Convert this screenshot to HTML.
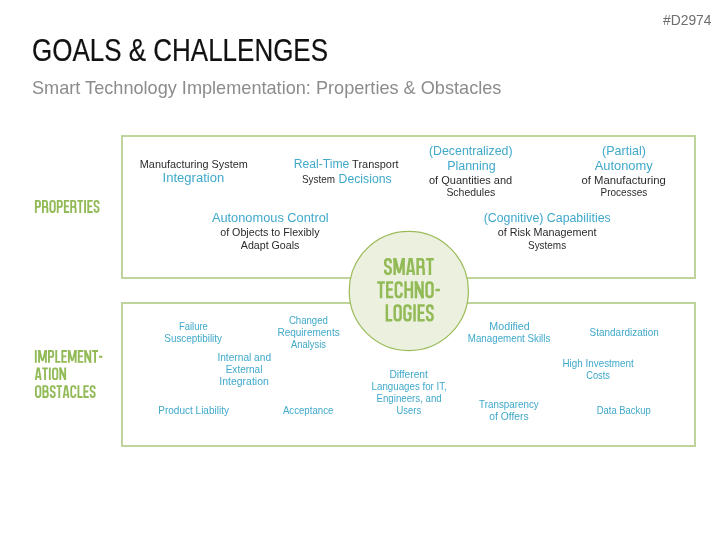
<!DOCTYPE html>
<html><head><meta charset="utf-8"><style>
html,body{margin:0;padding:0;background:#fff;width:727px;height:545px;overflow:hidden}
svg{display:block;will-change:transform}
text{font-family:"Liberation Sans",sans-serif}
</style></head><body>
<svg width="727" height="545" viewBox="0 0 727 545">
<rect x="0" y="0" width="727" height="545" fill="#ffffff"/>
<rect x="122" y="136" width="573" height="142" fill="none" stroke="#bfd49b" stroke-width="2"/>
<rect x="122" y="303" width="573" height="143" fill="none" stroke="#bfd49b" stroke-width="2"/>
<circle cx="408.8" cy="291" r="59.6" fill="#ebf1de" stroke="#9bbb59" stroke-width="1.2"/>
<text transform="translate(139.80 167.90) scale(0.9874 1)" font-size="11" fill="#2b2b2b">Manufacturing System</text>
<text transform="translate(162.56 181.70) scale(1.0444 1)" font-size="12.5" fill="#40a9ca">Integration</text>
<text transform="translate(293.83 167.90) scale(0.9710 1)" font-size="12.5" fill="#40a9ca">Real-Time</text>
<text transform="translate(352.10 167.90) scale(0.9977 1)" font-size="11" fill="#2b2b2b">Transport</text>
<text transform="translate(302.00 183.10) scale(0.9038 1)" font-size="11" fill="#2b2b2b">System</text>
<text transform="translate(338.62 183.10) scale(0.9785 1)" font-size="12.5" fill="#40a9ca">Decisions</text>
<text transform="translate(429.00 154.90) scale(1.0287 1)" font-size="12" fill="#40a9ca">(Decentralized)</text>
<text transform="translate(447.20 170.00) scale(1.0384 1)" font-size="12" fill="#40a9ca">Planning</text>
<text transform="translate(429.00 183.50) scale(1.0484 1)" font-size="10.5" fill="#2b2b2b">of Quantities and</text>
<text transform="translate(446.40 196.30) scale(0.9962 1)" font-size="10.5" fill="#2b2b2b">Schedules</text>
<text transform="translate(602.10 154.90) scale(1.0426 1)" font-size="12" fill="#40a9ca">(Partial)</text>
<text transform="translate(594.70 170.00) scale(1.0753 1)" font-size="12" fill="#40a9ca">Autonomy</text>
<text transform="translate(581.50 183.50) scale(1.0782 1)" font-size="10.5" fill="#2b2b2b">of Manufacturing</text>
<text transform="translate(600.50 196.30) scale(0.9535 1)" font-size="10.5" fill="#2b2b2b">Processes</text>
<text transform="translate(211.90 221.90) scale(1.0678 1)" font-size="12" fill="#40a9ca">Autonomous Control</text>
<text transform="translate(220.20 235.80) scale(1.0203 1)" font-size="10.5" fill="#2b2b2b">of Objects to Flexibly</text>
<text transform="translate(240.80 248.90) scale(1.0150 1)" font-size="10.5" fill="#2b2b2b">Adapt Goals</text>
<text transform="translate(483.70 221.90) scale(1.0301 1)" font-size="12" fill="#40a9ca">(Cognitive) Capabilities</text>
<text transform="translate(497.70 235.80) scale(1.0272 1)" font-size="10.5" fill="#2b2b2b">of Risk Management</text>
<text transform="translate(528.00 248.90) scale(0.9473 1)" font-size="10.5" fill="#2b2b2b">Systems</text>
<text transform="translate(178.90 330.10) scale(0.9482 1)" font-size="10" fill="#40a9ca">Failure</text>
<text transform="translate(164.30 341.60) scale(0.9904 1)" font-size="10" fill="#40a9ca">Susceptibility</text>
<text transform="translate(288.90 324.30) scale(0.9618 1)" font-size="10" fill="#40a9ca">Changed</text>
<text transform="translate(277.40 336.10) scale(1.0024 1)" font-size="10" fill="#40a9ca">Requirements</text>
<text transform="translate(290.90 348.00) scale(0.9426 1)" font-size="10" fill="#40a9ca">Analysis</text>
<text transform="translate(217.40 361.40) scale(1.0162 1)" font-size="10" fill="#40a9ca">Internal and</text>
<text transform="translate(225.70 373.30) scale(1.0010 1)" font-size="10" fill="#40a9ca">External</text>
<text transform="translate(219.30 384.80) scale(1.0494 1)" font-size="10" fill="#40a9ca">Integration</text>
<text transform="translate(158.30 413.90) scale(1.0015 1)" font-size="10" fill="#40a9ca">Product Liability</text>
<text transform="translate(282.90 413.90) scale(0.9659 1)" font-size="10" fill="#40a9ca">Acceptance</text>
<text transform="translate(489.30 330.10) scale(1.0715 1)" font-size="10" fill="#40a9ca">Modified</text>
<text transform="translate(467.80 341.60) scale(0.9777 1)" font-size="10" fill="#40a9ca">Management Skills</text>
<text transform="translate(389.40 378.20) scale(1.0255 1)" font-size="10" fill="#40a9ca">Different</text>
<text transform="translate(371.60 389.80) scale(0.9739 1)" font-size="10" fill="#40a9ca">Languages for IT,</text>
<text transform="translate(376.50 402.20) scale(0.9699 1)" font-size="10" fill="#40a9ca">Engineers, and</text>
<text transform="translate(396.60 413.70) scale(0.9382 1)" font-size="10" fill="#40a9ca">Users</text>
<text transform="translate(479.10 408.20) scale(0.9824 1)" font-size="10" fill="#40a9ca">Transparency</text>
<text transform="translate(489.30 419.50) scale(1.0298 1)" font-size="10" fill="#40a9ca">of Offers</text>
<text transform="translate(589.60 336.00) scale(0.9967 1)" font-size="10" fill="#40a9ca">Standardization</text>
<text transform="translate(562.50 367.20) scale(0.9879 1)" font-size="10" fill="#40a9ca">High Investment</text>
<text transform="translate(586.30 378.90) scale(0.9233 1)" font-size="10" fill="#40a9ca">Costs</text>
<text transform="translate(596.70 413.50) scale(0.9464 1)" font-size="10" fill="#40a9ca">Data Backup</text>
<text transform="translate(663.00 24.70) scale(1.0030 1)" font-size="13.8" fill="#6e6e6e">#D2974</text>
<text transform="translate(31.95 60.60) scale(0.8524 1)" font-size="30.5" fill="#111111" stroke="#111111" stroke-width="0.2">GOALS &amp; CHALLENGES</text>
<text transform="translate(32.00 93.90) scale(1.0081 1)" font-size="18" fill="#8c8c8c">Smart Technology Implementation: Properties &amp; Obstacles</text>
<path d="M 35.84,212.90 V 200.92 H 38.27 Q 39.96,200.92 39.96,202.58 V 205.16 Q 39.96,206.82 38.27,206.82 H 35.84 M 42.91,212.90 V 200.92 H 45.35 Q 47.03,200.92 47.03,202.58 V 205.16 Q 47.03,206.82 45.35,206.82 H 42.91 M 45.35,206.82 Q 47.37,206.82 47.37,208.48 V 212.90 M 50.33,203.13 Q 50.33,200.92 52.55,200.92 Q 54.77,200.92 54.77,203.13 V 209.77 Q 54.77,211.98 52.55,211.98 Q 50.33,211.98 50.33,209.77 Z M 57.73,212.90 V 200.92 H 60.16 Q 61.84,200.92 61.84,202.58 V 205.16 Q 61.84,206.82 60.16,206.82 H 57.73 M 69.20,200.92 H 64.80 V 211.98 H 69.20 M 64.80,206.36 H 68.74 M 71.17,212.90 V 200.92 H 73.60 Q 75.29,200.92 75.29,202.58 V 205.16 Q 75.29,206.82 73.60,206.82 H 71.17 M 73.60,206.82 Q 75.63,206.82 75.63,208.48 V 212.90 M 77.40,200.92 H 83.10 M 80.25,200.92 V 212.90 M 85.06,200.00 V 212.90 M 92.65,200.92 H 88.25 V 211.98 H 92.65 M 88.25,206.36 H 92.18 M 98.56,203.96 V 203.04 Q 98.56,200.92 96.54,200.92 Q 94.52,200.92 94.52,203.04 V 204.15 Q 94.52,205.34 95.64,205.99 L 97.52,207.00 Q 98.56,207.59 98.56,208.75 V 209.86 Q 98.56,211.98 96.54,211.98 Q 94.52,211.98 94.52,209.86 V 208.85" fill="none" stroke="#92ba56" stroke-width="1.86" stroke-linejoin="miter" stroke-linecap="butt"/>
<path d="M 35.81,350.10 V 362.80 M 39.09,362.80 V 350.10 M 45.87,362.80 V 350.10 M 48.95,362.80 V 351.01 H 51.46 Q 53.19,351.01 53.19,352.64 V 355.18 Q 53.19,356.81 51.46,356.81 H 48.95 M 56.24,350.10 V 361.89 H 60.48 M 66.85,351.01 H 62.32 V 361.89 H 66.85 M 62.32,356.36 H 66.37 M 68.88,362.80 V 350.10 M 75.66,362.80 V 350.10 M 83.27,351.01 H 78.74 V 361.89 H 83.27 M 78.74,356.36 H 82.79 M 85.29,362.80 V 350.10 M 90.30,350.10 V 362.80 M 92.13,351.01 H 97.99 M 95.06,351.01 V 362.80 M 99.05,356.72 H 102.40" fill="none" stroke="#92ba56" stroke-width="1.87" stroke-linejoin="miter" stroke-linecap="butt"/>
<path d="M 38.13,350.10 H 40.44 L 42.48,358.63 L 44.52,350.10 H 46.83 V 351.91 L 43.33,361.35 H 41.63 L 38.13,351.91 Z M 67.91,350.10 H 70.22 L 72.27,358.63 L 74.31,350.10 H 76.62 V 351.91 L 73.11,361.35 H 71.42 L 67.91,351.91 Z M 84.33,350.10 H 86.10 L 91.26,360.99 V 362.80 H 89.49 L 84.33,351.91 Z" fill="#92ba56" fill-rule="evenodd"/>
<path d="M 42.17,368.31 H 47.84 M 45.01,368.31 V 380.10 M 49.80,367.40 V 380.10 M 52.94,370.48 Q 52.94,368.31 55.15,368.31 Q 57.36,368.31 57.36,370.48 V 377.02 Q 57.36,379.19 55.15,379.19 Q 52.94,379.19 52.94,377.02 Z M 60.31,380.10 V 367.40 M 65.17,367.40 V 380.10" fill="none" stroke="#92ba56" stroke-width="1.84" stroke-linejoin="miter" stroke-linecap="butt"/>
<path d="M 34.85,380.10 L 36.81,367.40 H 39.65 L 41.61,380.10 H 39.74 L 39.40,377.74 H 37.05 L 36.72,380.10 Z M 37.31,376.11 H 39.14 L 38.23,369.94 Z M 59.38,367.40 H 61.10 L 66.10,378.29 V 380.10 H 64.38 L 59.38,369.21 Z" fill="#92ba56" fill-rule="evenodd"/>
<path d="M 35.94,388.28 Q 35.94,386.11 38.16,386.11 Q 40.38,386.11 40.38,388.28 V 394.82 Q 40.38,396.99 38.16,396.99 Q 35.94,396.99 35.94,394.82 Z M 43.34,391.46 H 45.77 Q 47.46,391.46 47.46,389.83 V 387.74 Q 47.46,386.11 45.77,386.11 H 43.34 V 396.99 H 46.11 Q 47.79,396.99 47.79,395.36 V 393.09 Q 47.79,391.46 46.11,391.46 H 43.34 M 54.74,389.10 V 388.19 Q 54.74,386.11 52.72,386.11 Q 50.70,386.11 50.70,388.19 V 389.28 Q 50.70,390.46 51.82,391.10 L 53.70,392.09 Q 54.74,392.67 54.74,393.82 V 394.91 Q 54.74,396.99 52.72,396.99 Q 50.70,396.99 50.70,394.91 V 393.91 M 56.43,386.11 H 62.12 M 59.28,386.11 V 397.90 M 75.46,389.19 V 388.28 Q 75.46,386.11 73.34,386.11 Q 71.21,386.11 71.21,388.28 V 394.82 Q 71.21,396.99 73.34,396.99 Q 75.46,396.99 75.46,394.82 V 393.91 M 78.42,385.20 V 396.99 H 82.54 M 88.74,386.11 H 84.34 V 396.99 H 88.74 M 84.34,391.46 H 88.28 M 94.66,389.10 V 388.19 Q 94.66,386.11 92.64,386.11 Q 90.62,386.11 90.62,388.19 V 389.28 Q 90.62,390.46 91.74,391.10 L 93.61,392.09 Q 94.66,392.67 94.66,393.82 V 394.91 Q 94.66,396.99 92.64,396.99 Q 90.62,396.99 90.62,394.91 V 393.91" fill="none" stroke="#92ba56" stroke-width="1.84" stroke-linejoin="miter" stroke-linecap="butt"/>
<path d="M 62.69,397.90 L 64.65,385.20 H 67.50 L 69.47,397.90 H 67.59 L 67.26,395.54 H 64.90 L 64.56,397.90 Z M 65.16,393.91 H 67.00 L 66.08,387.74 Z" fill="#92ba56" fill-rule="evenodd"/>
<path d="M 390.71,263.32 V 262.11 Q 390.71,259.31 387.96,259.31 Q 385.22,259.31 385.22,262.11 V 263.56 Q 385.22,265.14 386.74,265.99 L 389.29,267.33 Q 390.71,268.11 390.71,269.64 V 271.09 Q 390.71,273.89 387.96,273.89 Q 385.22,273.89 385.22,271.09 V 269.76 M 394.65,275.10 V 258.10 M 403.59,275.10 V 258.10 M 417.62,275.10 V 259.31 H 420.92 Q 423.20,259.31 423.20,261.50 V 264.90 Q 423.20,267.09 420.92,267.09 H 417.62 M 420.92,267.09 Q 423.66,267.09 423.66,269.27 V 275.10 M 426.08,259.31 H 433.80 M 429.94,259.31 V 275.10" fill="none" stroke="#92ba56" stroke-width="2.48" stroke-linejoin="miter" stroke-linecap="butt"/>
<path d="M 393.38,258.10 H 396.43 L 399.12,269.51 L 401.81,258.10 H 404.86 V 260.53 L 400.24,273.16 H 398.00 L 393.38,260.53 Z M 406.00,275.10 L 408.67,258.10 H 412.53 L 415.20,275.10 H 412.66 L 412.20,271.94 H 409.00 L 408.54,275.10 Z M 409.36,269.76 H 411.85 L 410.60,261.50 Z" fill="#92ba56" fill-rule="evenodd"/>
<path d="M 377.20,282.41 H 384.88 M 381.04,282.41 V 298.20 M 393.22,282.41 H 387.28 V 296.99 H 393.22 M 387.28,289.58 H 392.59 M 401.56,286.54 V 285.33 Q 401.56,282.41 398.69,282.41 Q 395.83,282.41 395.83,285.33 V 294.07 Q 395.83,296.99 398.69,296.99 Q 401.56,296.99 401.56,294.07 V 292.86 M 405.56,281.20 V 298.20 M 411.92,281.20 V 298.20 M 405.56,289.58 H 411.92 M 415.97,298.20 V 281.20 M 422.54,281.20 V 298.20 M 426.53,285.33 Q 426.53,282.41 429.53,282.41 Q 432.52,282.41 432.52,285.33 V 294.07 Q 432.52,296.99 429.53,296.99 Q 426.53,296.99 426.53,294.07 Z M 435.50,290.06 H 439.90" fill="none" stroke="#92ba56" stroke-width="2.48" stroke-linejoin="miter" stroke-linecap="butt"/>
<path d="M 414.70,281.20 H 417.03 L 423.80,295.77 V 298.20 H 421.48 L 414.70,283.63 Z" fill="#92ba56" fill-rule="evenodd"/>
<path d="M 386.85,304.30 V 320.27 H 392.34 M 394.69,308.48 Q 394.69,305.53 397.64,305.53 Q 400.60,305.53 400.60,308.48 V 317.32 Q 400.60,320.27 397.64,320.27 Q 394.69,320.27 394.69,317.32 Z M 410.41,309.46 V 308.48 Q 410.41,305.53 407.45,305.53 Q 404.50,305.53 404.50,308.48 V 317.32 Q 404.50,320.27 407.45,320.27 Q 410.41,320.27 410.41,317.32 V 313.51 H 407.67 M 414.55,304.30 V 321.50 M 424.66,305.53 H 418.80 V 320.27 H 424.66 M 418.80,312.78 H 424.04 M 432.55,309.58 V 308.35 Q 432.55,305.53 429.86,305.53 Q 427.16,305.53 427.16,308.35 V 309.83 Q 427.16,311.43 428.66,312.29 L 431.15,313.64 Q 432.55,314.42 432.55,315.97 V 317.45 Q 432.55,320.27 429.86,320.27 Q 427.16,320.27 427.16,317.45 V 316.09" fill="none" stroke="#92ba56" stroke-width="2.48" stroke-linejoin="miter" stroke-linecap="butt"/>

</svg>
</body></html>
